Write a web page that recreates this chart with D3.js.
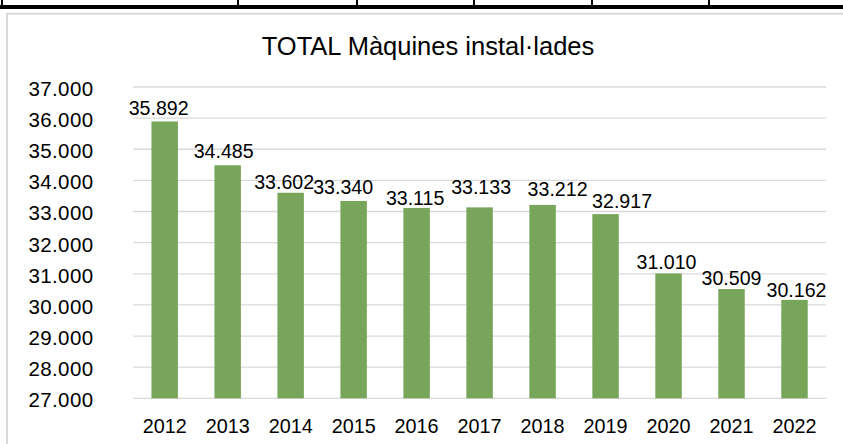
<!DOCTYPE html>
<html>
<head>
<meta charset="utf-8">
<script src="https://cdn.jsdelivr.net/npm/d3@7"></script>
<style>
  html, body { margin: 0; padding: 0; background: #fff; }
  svg { display: block; }
  text { font-family: "Liberation Sans", Arial, sans-serif; fill: #000; }
</style>
</head>
<body>
<svg id="chart" width="843" height="444"></svg>
<script>
// ---- data ----
const title = "TOTAL Màquines instal·lades";
const years = ["2012","2013","2014","2015","2016","2017","2018","2019","2020","2021","2022"];
const values = [35892, 34485, 33602, 33340, 33115, 33133, 33212, 32917, 31010, 30509, 30162];
const yTicks = [27000, 28000, 29000, 30000, 31000, 32000, 33000, 34000, 35000, 36000, 37000];
// manual label nudges (px) as placed in the original
const labelDx = [-6, -4, -6.5, -10.5, -1.5, 1.5, 15, 16.5, -2, 0, 2];
const labelDy = [-2.5, -3, 0, -3, 1, -9, -5, -2.4, 0, 0, 1.5];
// spreadsheet cell borders visible above the chart
const cellBorders = [2, 238, 357, 474, 592, 709];

const svg = d3.select("#chart");
const loc = d3.formatLocale({decimal: ",", thousands: ".", grouping: [3], currency: ["", ""]});
const fmt = loc.format(",");

// spreadsheet strip
svg.append("rect").attr("x", 0).attr("y", 5).attr("width", 843).attr("height", 4).attr("fill", "#000");
svg.selectAll("line.cell").data(cellBorders).join("line")
  .attr("class", "cell")
  .attr("x1", d => d).attr("x2", d => d)
  .attr("y1", 0).attr("y2", 6)
  .attr("stroke", "#000").attr("stroke-width", 2);

// chart border
svg.append("rect")
  .attr("x", 7).attr("y", 13.7).attr("width", 900).attr("height", 500)
  .attr("fill", "#fff").attr("stroke", "#d9d9d9").attr("stroke-width", 2);

const x = d3.scaleBand().domain(years).range([133.2, 826])
  .paddingInner(0.58).paddingOuter(0.29);
const y = d3.scaleLinear().domain([27000, 37000]).range([398.3, 87]);

// gridlines
svg.append("g").selectAll("line").data(yTicks).join("line")
  .attr("x1", 133.2).attr("x2", 826)
  .attr("y1", d => y(d)).attr("y2", d => y(d))
  .attr("stroke", "#d9d9d9").attr("stroke-width", 1.3);

// y axis labels
const yAxis = d3.axisLeft(y).tickValues(yTicks).tickFormat(fmt).tickSize(0).tickPadding(0);
const gy = svg.append("g").attr("transform", "translate(93.5,0)").call(yAxis);
gy.select(".domain").remove();
gy.selectAll("text")
  .attr("font-size", "20.5px").attr("font-family", "Liberation Sans, Arial, sans-serif")
  .attr("fill", "#000").attr("dy", "0.36em").attr("y", 1).attr("letter-spacing", "0.4px");

// x axis labels
const xAxis = d3.axisBottom(x).tickSize(0).tickPadding(0);
const gx = svg.append("g").attr("transform", "translate(0,398.3)").call(xAxis);
gx.select(".domain").remove();
gx.selectAll("text")
  .attr("font-size", "19.8px").attr("font-family", "Liberation Sans, Arial, sans-serif")
  .attr("fill", "#000").attr("dy", 0).attr("y", 34.7);

// bars
svg.append("g").selectAll("rect").data(values).join("rect")
  .attr("x", (d, i) => x(years[i]))
  .attr("width", x.bandwidth())
  .attr("y", d => y(d))
  .attr("height", d => y(27000) - y(d))
  .attr("fill", "#77a55a");

// value labels
svg.append("g").selectAll("text").data(values).join("text")
  .attr("x", (d, i) => x(years[i]) + x.bandwidth() / 2 + labelDx[i])
  .attr("y", (d, i) => y(d) - 4 + labelDy[i])
  .attr("text-anchor", "middle")
  .attr("font-size", "19.6px")
  .text(d => fmt(d));

// title
svg.append("text")
  .attr("x", 428).attr("y", 55)
  .attr("text-anchor", "middle")
  .attr("font-size", "25.5px")
  .text(title);
</script>
</body>
</html>
